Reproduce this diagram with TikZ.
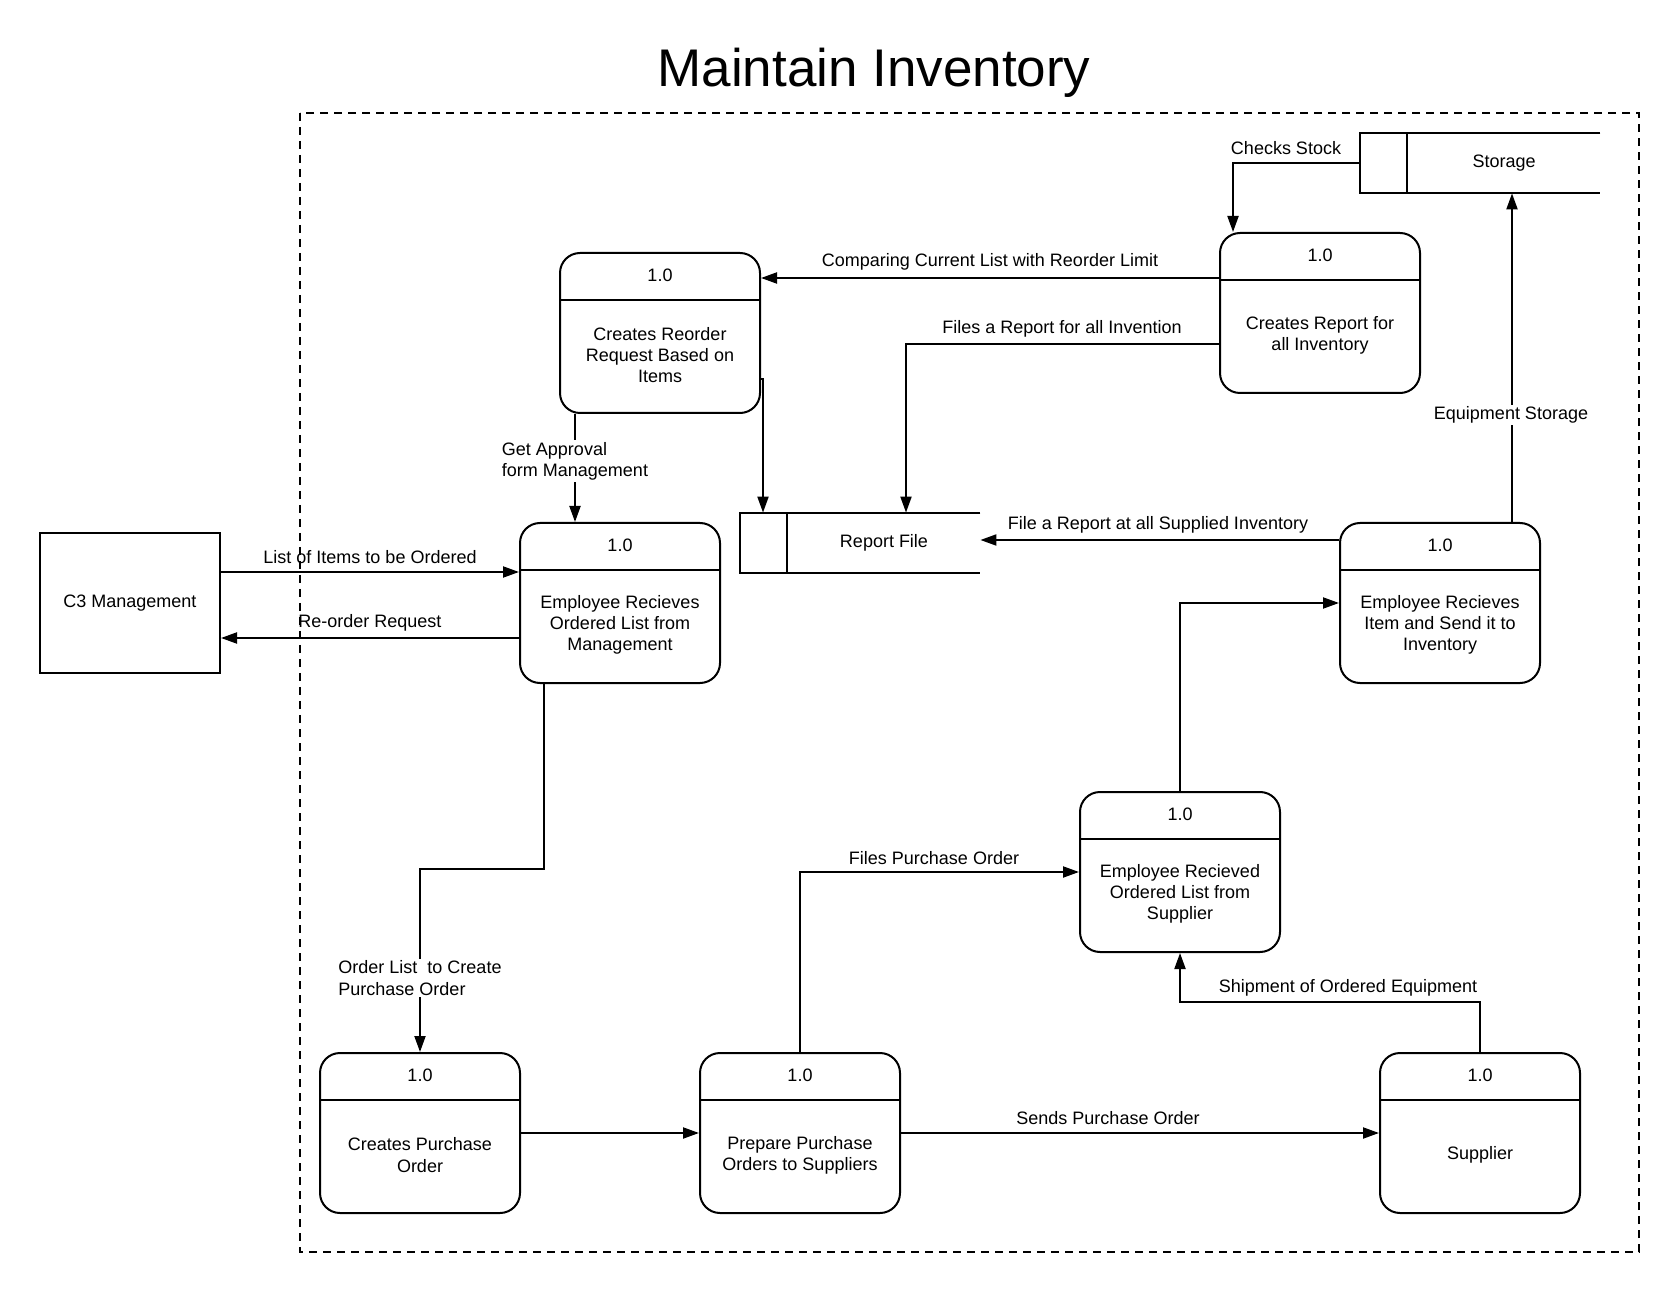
\documentclass[tikz,border=0pt]{standalone}
\usepackage{fontspec}
\setmainfont{Liberation Sans}
\usetikzlibrary{arrows.meta,calc}
\begin{document}
\begin{tikzpicture}[x=0.5pt,y=-0.5pt,
  every node/.style={font=\fontsize{9}{10.6}\selectfont},
  proc/.style={draw, line width=1pt, rounded corners=10pt, minimum width=100pt, minimum height=80pt, inner sep=0pt},
  txt/.style={inner sep=1pt, align=center},
  lbl/.style={inner sep=1pt, align=left},
  arr/.style={line width=1pt, -{Triangle[length=8pt,width=5.5pt]}},
  ln/.style={line width=1pt}]
\useasboundingbox (0,0) rectangle (1680,1293);

% title
\node[anchor=base, inner sep=0pt, font=\fontsize{26.5}{30}\selectfont] (title) at (874,87) {Maintain Inventory};

% boundary
\draw[line width=1pt, dash pattern=on 4pt off 3pt] (300,113) rectangle (1639,1252);

% process boxes
\newcommand{\procbox}[4]{%
  \node[proc] (#1) at (#2,#3) {};
  \draw[ln] ([yshift=-24pt]#1.north west) -- ([yshift=-24pt]#1.north east);
  \node[txt] at ([yshift=-11.6pt]#1.north) {1.0};
  \node[txt] at ([yshift=-11pt]#1.center) {#4};
}
\procbox{reorder}{660}{333}{Creates Reorder\\Request Based on\\Items}
\procbox{report}{1320}{313}{Creates Report for\\all Inventory}
\procbox{empmgmt}{620}{603}{Employee Recieves\\Ordered List from\\Management}
\procbox{empitem}{1440}{603}{Employee Recieves\\Item and Send it to\\Inventory}
\procbox{empsupp}{1180}{872}{Employee Recieved\\Ordered List from\\Supplier}
\procbox{createpo}{420}{1133}{Creates Purchase\\Order}
\procbox{prepare}{800}{1133}{Prepare Purchase\\Orders to Suppliers}
\procbox{supplier}{1480}{1133}{Supplier}

% external entity
\node[draw, line width=1pt, minimum width=90pt, minimum height=70pt, inner sep=0pt] (c3) at (130,603) {};
\node[txt] at (c3.center) {C3 Management};

% data stores
\node[minimum width=120pt, minimum height=30pt, inner sep=0pt] (rfile) at (860,543) {};
\draw[ln] (rfile.north east) -- (rfile.north west) -- (rfile.south west) -- (rfile.south east);
\draw[ln] ([xshift=23.5pt]rfile.north west) -- ([xshift=23.5pt]rfile.south west);
\node[txt] at (884,543) {Report File};

\node[minimum width=120pt, minimum height=30pt, inner sep=0pt] (storage) at (1480,163) {};
\draw[ln] (storage.north east) -- (storage.north west) -- (storage.south west) -- (storage.south east);
\draw[ln] ([xshift=23.5pt]storage.north west) -- ([xshift=23.5pt]storage.south west);
\node[txt] at (1504,163) {Storage};

% connectors
\draw[arr] (storage.west) -| ([xshift=7pt]report.north west);
\node[txt] at (1286,148) {Checks Stock};

\draw[arr] ([yshift=17.5pt]report.west) -- ([yshift=17.5pt]report.west -| reorder.east);
\node[txt] at (990,262) {Comparing Current List with Reorder Limit};

\draw[arr] ([yshift=-15.5pt]report.west) -| ([xshift=23pt]rfile.north);
\node[txt] at (1062,329) {Files a Report for all Invention};

\draw[arr] ([yshift=-23pt]reorder.east) -| ([xshift=-48.5pt]rfile.north);

\draw[arr] ([xshift=-42.5pt]reorder.south) -- ([xshift=-42.5pt]reorder.south |- empmgmt.north);
\node[lbl, fill=white] at (575,461) {Get Approval\\form Management};

\draw[arr] ([yshift=15.5pt]c3.east) -- ([yshift=15.5pt]c3.east -| empmgmt.west);
\node[txt] at (370,557) {List of Items to be Ordered};

\draw[arr] ([yshift=-17.5pt]empmgmt.west) -- ([yshift=-17.5pt]empmgmt.west -| c3.east);
\node[txt] at (370,623) {Re-order Request};

\draw[arr] ([xshift=-38pt]empmgmt.south) -- ++(0,185) -| (createpo.north);
\node[lbl, fill=white] at (420,978) {Order List\ \ to Create\\Purchase Order};

\draw[arr] (createpo.east) -- (prepare.west);

\draw[arr] (prepare.north) |- (empsupp.west);
\node[txt] at (934,858) {Files Purchase Order};

\draw[arr] (prepare.east) -- (supplier.west);
\node[txt] at (1108,1118) {Sends Purchase Order};

\draw[arr] (supplier.north) -- ++(0,-50) -| (empsupp.south);
\node[txt] at (1348,988) {Shipment of Ordered Equipment};

\draw[arr] (empsupp.north) |- (empitem.west);

\draw[arr] ([yshift=31.5pt]empitem.west) -- ([yshift=31.5pt]empitem.west -| rfile.east);
\node[txt] at (1158,525) {File a Report at all Supplied Inventory};

\draw[arr] ([xshift=36pt]empitem.north) -- ([xshift=36pt]empitem.north |- storage.south);
\node[txt, fill=white] at (1511,415) {Equipment Storage};
\end{tikzpicture}
\end{document}
